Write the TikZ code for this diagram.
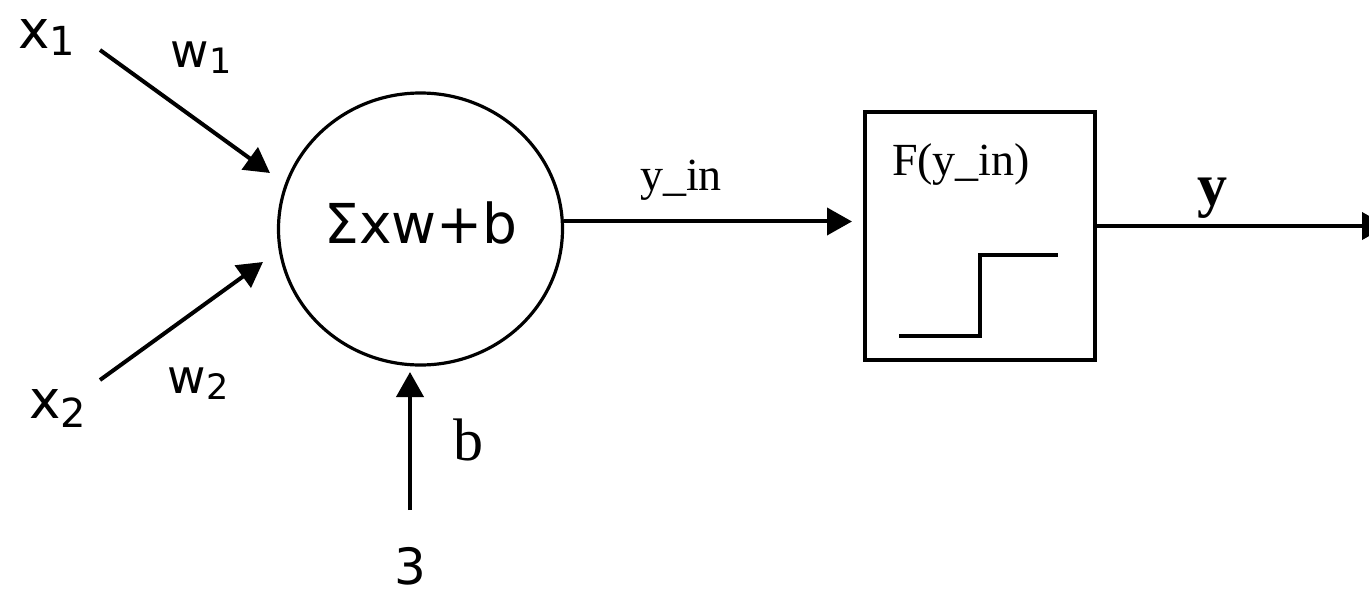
\documentclass[tikz,border=0pt]{standalone}
\usepackage{fontspec}
\setmainfont{Liberation Serif}
\newfontfamily\sansf{DejaVu Sans}
\usetikzlibrary{arrows.meta,shapes.geometric}
\tikzset{
  conn/.style={line width=4pt, -{Triangle[length=25pt,width=27pt]}},
  sanslbl/.style={inner sep=0pt, anchor=base, font=\sansf\fontsize{53}{60}\selectfont},
  wlbl/.style={inner sep=0pt, anchor=base, font=\sansf\fontsize{47}{54}\selectfont},
  seriflbl/.style={inner sep=0pt, anchor=base, font=\fontsize{46}{52}\selectfont},
}
\begin{document}
\begin{tikzpicture}[x=1pt,y=-1pt]
\useasboundingbox (0,0) rectangle (1369,597);
% summation node
\node[ellipse, draw, line width=3.2pt, minimum width=284pt, minimum height=272pt, inner sep=0pt] (circ) at (420.5,229) {};
\node[sanslbl, font=\sansf\fontsize{55}{60}\selectfont] (sum) at (421,243) {Σxw+b};
% activation box
\node[draw, line width=4pt, minimum width=230pt, minimum height=248pt, inner sep=0pt] (box) at (980,236) {};
\node[seriflbl] (flbl) at (961,175) {F(y\_in)};
\draw[line width=4pt] (899,336) -- (980,336) -- (980,255) -- (1058,255);
% inputs
\node[sanslbl] (x1) at (47,48) {x\raisebox{-7pt}{\fontsize{40}{40}\selectfont 1}};
\node[wlbl] (w1) at (201,67) {w\raisebox{-6pt}{\fontsize{35}{40}\selectfont 1}};
\node[sanslbl] (x2) at (58,418) {x\raisebox{-9pt}{\fontsize{40}{40}\selectfont 2}};
\node[wlbl] (w2) at (198,393) {w\raisebox{-6pt}{\fontsize{35}{40}\selectfont 2}};
\coordinate (x1s) at (100,50);
\coordinate (x1t) at (270,173);
\coordinate (x2s) at (100,380);
\coordinate (x2t) at (263,262);
\draw[conn] (x1s) -- (x1t);
\draw[conn] (x2s) -- (x2t);
% bias
\node[sanslbl, font=\sansf\fontsize{50}{56}\selectfont] (three) at (410,584) {3};
\node[inner sep=0pt, anchor=base, font=\fontsize{60}{66}\selectfont] (blbl) at (468,460) {b};
\coordinate (bs) at (410,510);
\coordinate (bt) at (410,372);
\draw[conn] (bs) -- (bt);
% y_in arrow
\node[seriflbl] (yin) at (681,190) {y\_in};
\draw[conn, shorten >=11pt] (circ.3) -- (box.west |- circ.3);
% output
\node[inner sep=0pt, anchor=base, font=\bfseries\fontsize{60}{66}\selectfont] (ylbl) at (1212,205) {y};
\coordinate (out) at (1387,226);
\draw[conn] ([yshift=10pt]box.east) -- (out);
\end{tikzpicture}
\end{document}
